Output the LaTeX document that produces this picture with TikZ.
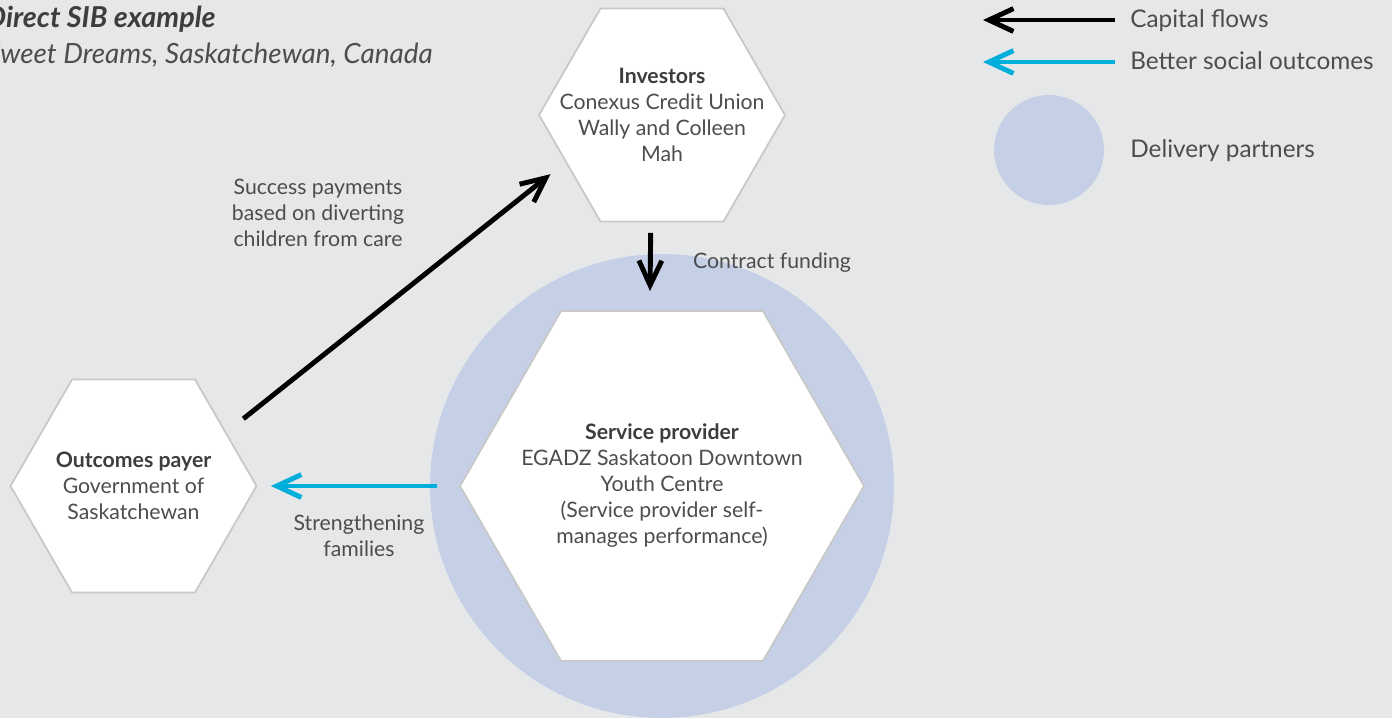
\documentclass[tikz,border=0pt]{standalone}
\usepackage{fontspec}
\setmainfont{Lato}
\usetikzlibrary{shapes.geometric,arrows.meta}
\definecolor{bg}{HTML}{E6E7E9}
\definecolor{partner}{HTML}{C5D0E7}
\definecolor{social}{HTML}{00AEDB}
\definecolor{hexline}{HTML}{C8C8C8}
\definecolor{txt}{HTML}{4D4D4F}
\definecolor{head}{HTML}{3D3D3F}
\tikzset{
  hexbox/.style={regular polygon, regular polygon sides=6, draw=hexline, fill=white, line width=1pt, inner sep=0pt, outer sep=0pt},
  partnerdisc/.style={circle, fill=partner, inner sep=0pt, outer sep=0pt},
  lbl/.style={text=txt, font=\fontsize{12.1}{14.8}\selectfont, align=center},
  legtxt/.style={text=txt, font=\fontsize{13.85}{16}\selectfont, anchor=base west, inner sep=0pt},
  capital/.style={line width=2.8pt, -{Straight Barb[length=14pt,width=13pt]}},
  better/.style={capital, social},
}
\begin{document}
\begin{tikzpicture}[x=0.02cm,y=-0.02cm]
    \useasboundingbox (0,0) rectangle (1392,718);
    \fill[bg] (0,0) rectangle (1392,718);
    \clip (0,0) rectangle (1392,718);

    % Title
    \node[text=head, font=\fontsize{16.4}{18}\selectfont\bfseries\itshape, anchor=base east, inner sep=0pt] (title) at (216,27) {Direct SIB example};
    \node[text=txt, font=\fontsize{15.85}{18}\selectfont\itshape, anchor=base east, inner sep=0pt] (place) at (433,63) {Sweet Dreams, Saskatchewan, Canada};

    % Delivery partners
    \node[partnerdisc, minimum size=9.28cm] (partners) at (662,486) {};

    % Hexagons
    \node[hexbox, minimum size=4.92cm] (inv) at (662,115) {};
    \node[hexbox, minimum size=4.92cm] (out) at (133.5,486) {};
    \node[hexbox, minimum size=8.08cm] (svc) at (662,486) {};

    % Hexagon texts
    \node[lbl] (invtxt) at (inv) {{\color{head}\bfseries Investors}\\Conexus Credit Union\\Wally and Colleen\\Mah};
    \node[lbl] (outtxt) at (out) {{\color{head}\bfseries Outcomes payer}\\Government of\\Saskatchewan};
    \node[lbl] (svctxt) at (svc) {{\color{head}\bfseries Service provider}\\EGADZ Saskatoon Downtown\\Youth Centre\\(Service provider self-\\manages performance)};

    % Flows
    \draw[capital, shorten <=12.8pt, shorten >=11.3pt] (out.30) -- (inv.206.5);
    \draw[capital, shorten <=6.5pt, shorten >=11.4pt] (inv.264) -- (svc.94);
    \draw[better, shorten <=13pt, shorten >=8.2pt] (svc.west) -- (out.east);

    % Flow labels
    \node[lbl] (succ) at (318,213) {Success payments\\based on diverting\\children from care};
    \node[lbl] (fund) at (772,263) {Contract funding};
    \node[lbl] (fam) at (359,536) {Strengthening\\families};

    % Legend
    \coordinate (capS) at (1115,20);
    \coordinate (capE) at (983,20);
    \coordinate (betS) at (1115,62);
    \coordinate (betE) at (983,62);
    \draw[capital] (capS) -- (capE);
    \draw[better] (betS) -- (betE);
    \node[partnerdisc, minimum size=2.2cm] (legdisc) at (1049,150) {};
    \node[legtxt] (captxt) at (1130,27) {Capital flows};
    \node[legtxt] (bettxt) at (1130,69) {Better social outcomes};
    \node[legtxt] (deltxt) at (1130,157) {Delivery partners};
\end{tikzpicture}
\end{document}
